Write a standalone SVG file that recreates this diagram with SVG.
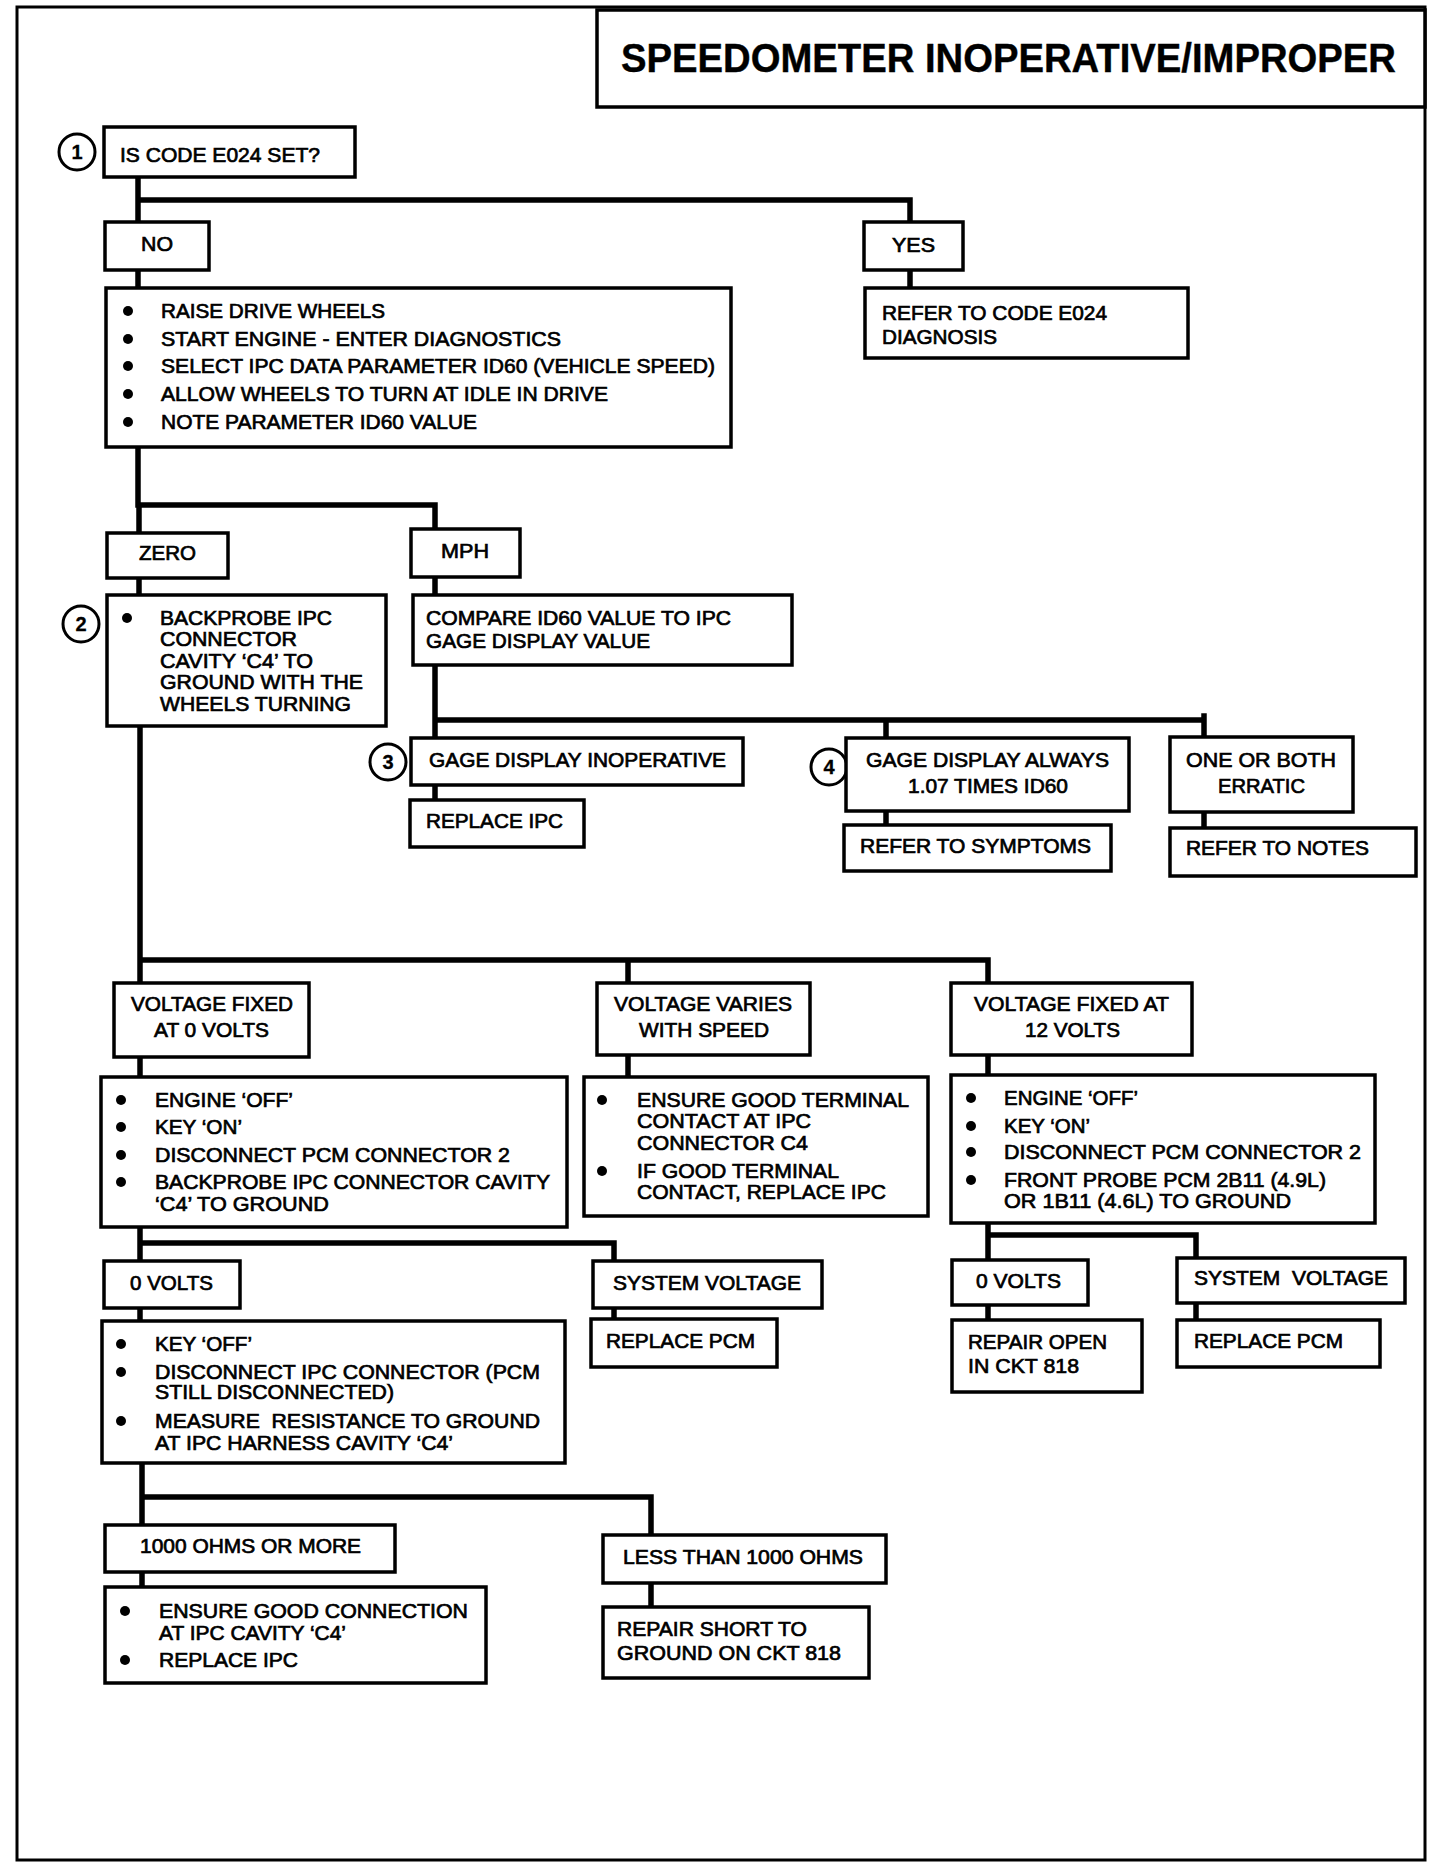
<svg xmlns="http://www.w3.org/2000/svg" width="1440" height="1872" viewBox="0 0 1440 1872">
<style>
.frame{fill:none;stroke:#000;stroke-width:3}
.box{fill:#fff;stroke:#000;stroke-width:3.5}
.conn{fill:none;stroke:#000;stroke-width:5.5;stroke-linecap:square;stroke-linejoin:miter}
text{font-family:"Liberation Sans",Arial,sans-serif;font-size:21px;fill:#000;stroke:#000;stroke-width:0.7}
.title{font-size:40px;font-weight:bold;stroke-width:0.4}
.num circle{fill:#fff;stroke:#000;stroke-width:3}
.num text{font-size:20px;font-weight:bold;text-anchor:middle;stroke-width:0.3}
.bul{fill:#000}
</style>
<rect x="0" y="0" width="1440" height="1872" fill="#fff"/>
<rect class="frame" x="17" y="7" width="1408" height="1853"/>

<g id="connectors">
<path class="conn" d="M138 177 V288 M138 200 H910 V222 M910 270 V288"/>
<path class="conn" d="M138 447 V505 H435 V529 M139 505 V533"/>
<path class="conn" d="M139 578 V595 M435 577 V595"/>
<path class="conn" d="M435 665 V738 M435 720 H1204 V737 M1204 716 V720 M886 720 V738"/>
<path class="conn" d="M435 785 V800 M886 811 V825 M1204 812 V828"/>
<path class="conn" d="M140 726 V983 M140 960 H988 V983 M628 960 V983"/>
<path class="conn" d="M140 1057 V1077 M628 1055 V1077 M988 1055 V1075"/>
<path class="conn" d="M140 1227 V1261 M140 1243 H614 V1261"/>
<path class="conn" d="M140 1308 V1321 M614 1308 V1319"/>
<path class="conn" d="M988 1223 V1260 M988 1235 H1196 V1258"/>
<path class="conn" d="M988 1305 V1320 M1196 1303 V1320"/>
<path class="conn" d="M142 1463 V1525 M142 1497 H651 V1535"/>
<path class="conn" d="M142 1572 V1587 M651 1583 V1607"/>
</g>

<g id="title">
<rect class="box" x="597" y="10" width="828" height="97"/>
<text class="title" x="621" y="72" textLength="775" lengthAdjust="spacingAndGlyphs">SPEEDOMETER INOPERATIVE/IMPROPER</text>
</g>

<g id="step1" class="num"><circle cx="77" cy="152" r="18"/><text x="77" y="159">1</text></g>
<g id="step2" class="num"><circle cx="81" cy="624" r="18"/><text x="81" y="631">2</text></g>
<g id="step3" class="num"><circle cx="388" cy="762" r="18"/><text x="388" y="769">3</text></g>
<g id="step4" class="num"><circle cx="829" cy="767" r="18"/><text x="829" y="774">4</text></g>

<g id="n-code">
<rect class="box" x="104" y="127" width="251" height="50"/>
<text x="120" y="162" textLength="200" lengthAdjust="spacingAndGlyphs">IS CODE E024 SET?</text>
</g>

<g id="n-no">
<rect class="box" x="105" y="222" width="104" height="48"/>
<text x="141" y="251" textLength="32" lengthAdjust="spacingAndGlyphs">NO</text>
</g>

<g id="n-yes">
<rect class="box" x="864" y="222" width="99" height="48"/>
<text x="892" y="252" textLength="43" lengthAdjust="spacingAndGlyphs">YES</text>
</g>

<g id="n-refer-e024">
<rect class="box" x="865" y="288" width="323" height="70"/>
<text x="882" y="320" textLength="225" lengthAdjust="spacingAndGlyphs">REFER TO CODE E024</text>
<text x="882" y="344" textLength="115" lengthAdjust="spacingAndGlyphs">DIAGNOSIS</text>
</g>

<g id="n-raise">
<rect class="box" x="106" y="288" width="625" height="159"/>
<circle class="bul" cx="128" cy="311" r="5"/>
<circle class="bul" cx="128" cy="339" r="5"/>
<circle class="bul" cx="128" cy="366" r="5"/>
<circle class="bul" cx="128" cy="394" r="5"/>
<circle class="bul" cx="128" cy="422" r="5"/>
<text x="161" y="318" textLength="224" lengthAdjust="spacingAndGlyphs">RAISE DRIVE WHEELS</text>
<text x="161" y="346" textLength="400" lengthAdjust="spacingAndGlyphs">START ENGINE - ENTER DIAGNOSTICS</text>
<text x="161" y="373" textLength="554" lengthAdjust="spacingAndGlyphs">SELECT IPC DATA PARAMETER ID60 (VEHICLE SPEED)</text>
<text x="161" y="401" textLength="447" lengthAdjust="spacingAndGlyphs">ALLOW WHEELS TO TURN AT IDLE IN DRIVE</text>
<text x="161" y="429" textLength="316" lengthAdjust="spacingAndGlyphs">NOTE PARAMETER ID60 VALUE</text>
</g>

<g id="n-zero">
<rect class="box" x="107" y="533" width="121" height="45"/>
<text x="139" y="560" textLength="57" lengthAdjust="spacingAndGlyphs">ZERO</text>
</g>

<g id="n-mph">
<rect class="box" x="411" y="529" width="109" height="48"/>
<text x="441" y="558" textLength="48" lengthAdjust="spacingAndGlyphs">MPH</text>
</g>

<g id="n-backprobe">
<rect class="box" x="107" y="595" width="279" height="131"/>
<circle class="bul" cx="127" cy="618" r="5"/>
<text x="160" y="625" textLength="172" lengthAdjust="spacingAndGlyphs">BACKPROBE IPC</text>
<text x="160" y="646" textLength="137" lengthAdjust="spacingAndGlyphs">CONNECTOR</text>
<text x="160" y="668" textLength="153" lengthAdjust="spacingAndGlyphs">CAVITY ‘C4’ TO</text>
<text x="160" y="689" textLength="203" lengthAdjust="spacingAndGlyphs">GROUND WITH THE</text>
<text x="160" y="711" textLength="191" lengthAdjust="spacingAndGlyphs">WHEELS TURNING</text>
</g>

<g id="n-compare">
<rect class="box" x="413" y="595" width="379" height="70"/>
<text x="426" y="625" textLength="305" lengthAdjust="spacingAndGlyphs">COMPARE ID60 VALUE TO IPC</text>
<text x="426" y="648" textLength="224" lengthAdjust="spacingAndGlyphs">GAGE DISPLAY VALUE</text>
</g>

<g id="n-gage-inop">
<rect class="box" x="411" y="738" width="332" height="47"/>
<text x="429" y="767" textLength="297" lengthAdjust="spacingAndGlyphs">GAGE DISPLAY INOPERATIVE</text>
</g>

<g id="n-replace-ipc">
<rect class="box" x="410" y="800" width="174" height="47"/>
<text x="426" y="828" textLength="137" lengthAdjust="spacingAndGlyphs">REPLACE IPC</text>
</g>

<g id="n-gage-always">
<rect class="box" x="846" y="738" width="283" height="73"/>
<text x="866" y="767" textLength="243" lengthAdjust="spacingAndGlyphs">GAGE DISPLAY ALWAYS</text>
<text x="908" y="793" textLength="160" lengthAdjust="spacingAndGlyphs">1.07 TIMES ID60</text>
</g>

<g id="n-symptoms">
<rect class="box" x="844" y="825" width="267" height="46"/>
<text x="860" y="853" textLength="231" lengthAdjust="spacingAndGlyphs">REFER TO SYMPTOMS</text>
</g>

<g id="n-erratic">
<rect class="box" x="1170" y="737" width="183" height="75"/>
<text x="1186" y="767" textLength="150" lengthAdjust="spacingAndGlyphs">ONE OR BOTH</text>
<text x="1218" y="793" textLength="87" lengthAdjust="spacingAndGlyphs">ERRATIC</text>
</g>

<g id="n-notes">
<rect class="box" x="1170" y="828" width="246" height="48"/>
<text x="1186" y="855" textLength="183" lengthAdjust="spacingAndGlyphs">REFER TO NOTES</text>
</g>

<g id="n-fixed0">
<rect class="box" x="114" y="983" width="195" height="74"/>
<text x="131" y="1011" textLength="162" lengthAdjust="spacingAndGlyphs">VOLTAGE FIXED</text>
<text x="154" y="1037" textLength="115" lengthAdjust="spacingAndGlyphs">AT 0 VOLTS</text>
</g>

<g id="n-varies">
<rect class="box" x="597" y="983" width="213" height="72"/>
<text x="614" y="1011" textLength="178" lengthAdjust="spacingAndGlyphs">VOLTAGE VARIES</text>
<text x="639" y="1037" textLength="130" lengthAdjust="spacingAndGlyphs">WITH SPEED</text>
</g>

<g id="n-fixed12">
<rect class="box" x="951" y="983" width="241" height="72"/>
<text x="974" y="1011" textLength="195" lengthAdjust="spacingAndGlyphs">VOLTAGE FIXED AT</text>
<text x="1025" y="1037" textLength="95" lengthAdjust="spacingAndGlyphs">12 VOLTS</text>
</g>

<g id="n-engine-left">
<rect class="box" x="101" y="1077" width="466" height="150"/>
<circle class="bul" cx="121" cy="1100" r="5"/>
<circle class="bul" cx="121" cy="1127" r="5"/>
<circle class="bul" cx="121" cy="1155" r="5"/>
<circle class="bul" cx="121" cy="1182" r="5"/>
<text x="155" y="1107" textLength="138" lengthAdjust="spacingAndGlyphs">ENGINE ‘OFF’</text>
<text x="155" y="1134" textLength="87" lengthAdjust="spacingAndGlyphs">KEY ‘ON’</text>
<text x="155" y="1162" textLength="355" lengthAdjust="spacingAndGlyphs">DISCONNECT PCM CONNECTOR 2</text>
<text x="155" y="1189" textLength="395" lengthAdjust="spacingAndGlyphs">BACKPROBE IPC CONNECTOR CAVITY</text>
<text x="155" y="1211" textLength="174" lengthAdjust="spacingAndGlyphs">‘C4’ TO GROUND</text>
</g>

<g id="n-ensure-terminal">
<rect class="box" x="584" y="1077" width="344" height="139"/>
<circle class="bul" cx="602" cy="1100" r="5"/>
<circle class="bul" cx="602" cy="1171" r="5"/>
<text x="637" y="1107" textLength="272" lengthAdjust="spacingAndGlyphs">ENSURE GOOD TERMINAL</text>
<text x="637" y="1128" textLength="174" lengthAdjust="spacingAndGlyphs">CONTACT AT IPC</text>
<text x="637" y="1150" textLength="171" lengthAdjust="spacingAndGlyphs">CONNECTOR C4</text>
<text x="637" y="1178" textLength="202" lengthAdjust="spacingAndGlyphs">IF GOOD TERMINAL</text>
<text x="637" y="1199" textLength="249" lengthAdjust="spacingAndGlyphs">CONTACT, REPLACE IPC</text>
</g>

<g id="n-engine-right">
<rect class="box" x="951" y="1075" width="424" height="148"/>
<circle class="bul" cx="971" cy="1098" r="5"/>
<circle class="bul" cx="971" cy="1126" r="5"/>
<circle class="bul" cx="971" cy="1152" r="5"/>
<circle class="bul" cx="971" cy="1180" r="5"/>
<text x="1004" y="1105" textLength="134" lengthAdjust="spacingAndGlyphs">ENGINE ‘OFF’</text>
<text x="1004" y="1133" textLength="86" lengthAdjust="spacingAndGlyphs">KEY ‘ON’</text>
<text x="1004" y="1159" textLength="357" lengthAdjust="spacingAndGlyphs">DISCONNECT PCM CONNECTOR 2</text>
<text x="1004" y="1187" textLength="322" lengthAdjust="spacingAndGlyphs">FRONT PROBE PCM 2B11 (4.9L)</text>
<text x="1004" y="1208" textLength="287" lengthAdjust="spacingAndGlyphs">OR 1B11 (4.6L) TO GROUND</text>
</g>

<g id="n-0v-left">
<rect class="box" x="104" y="1261" width="136" height="47"/>
<text x="130" y="1290" textLength="83" lengthAdjust="spacingAndGlyphs">0 VOLTS</text>
</g>

<g id="n-sysv-mid">
<rect class="box" x="593" y="1261" width="229" height="47"/>
<text x="613" y="1290" textLength="188" lengthAdjust="spacingAndGlyphs">SYSTEM VOLTAGE</text>
</g>

<g id="n-replace-pcm-mid">
<rect class="box" x="591" y="1319" width="186" height="48"/>
<text x="606" y="1348" textLength="149" lengthAdjust="spacingAndGlyphs">REPLACE PCM</text>
</g>

<g id="n-0v-right">
<rect class="box" x="952" y="1260" width="136" height="45"/>
<text x="976" y="1288" textLength="85" lengthAdjust="spacingAndGlyphs">0 VOLTS</text>
</g>

<g id="n-sysv-right">
<rect class="box" x="1177" y="1258" width="228" height="45"/>
<text x="1194" y="1285" textLength="194" lengthAdjust="spacingAndGlyphs" xml:space="preserve">SYSTEM  VOLTAGE</text>
</g>

<g id="n-repair-open">
<rect class="box" x="952" y="1320" width="190" height="72"/>
<text x="968" y="1349" textLength="139" lengthAdjust="spacingAndGlyphs">REPAIR OPEN</text>
<text x="968" y="1373" textLength="111" lengthAdjust="spacingAndGlyphs">IN CKT 818</text>
</g>

<g id="n-replace-pcm-right">
<rect class="box" x="1177" y="1320" width="203" height="47"/>
<text x="1194" y="1348" textLength="149" lengthAdjust="spacingAndGlyphs">REPLACE PCM</text>
</g>

<g id="n-key-off">
<rect class="box" x="102" y="1321" width="463" height="142"/>
<circle class="bul" cx="121" cy="1344" r="5"/>
<circle class="bul" cx="121" cy="1372" r="5"/>
<circle class="bul" cx="121" cy="1421" r="5"/>
<text x="155" y="1351" textLength="97" lengthAdjust="spacingAndGlyphs">KEY ‘OFF’</text>
<text x="155" y="1379" textLength="385" lengthAdjust="spacingAndGlyphs">DISCONNECT IPC CONNECTOR (PCM</text>
<text x="155" y="1399" textLength="239" lengthAdjust="spacingAndGlyphs">STILL DISCONNECTED)</text>
<text x="155" y="1428" textLength="385" lengthAdjust="spacingAndGlyphs" xml:space="preserve">MEASURE  RESISTANCE TO GROUND</text>
<text x="155" y="1450" textLength="298" lengthAdjust="spacingAndGlyphs">AT IPC HARNESS CAVITY ‘C4’</text>
</g>

<g id="n-1000-more">
<rect class="box" x="105" y="1525" width="290" height="47"/>
<text x="140" y="1553" textLength="221" lengthAdjust="spacingAndGlyphs">1000 OHMS OR MORE</text>
</g>

<g id="n-ensure-conn">
<rect class="box" x="105" y="1587" width="381" height="96"/>
<circle class="bul" cx="125" cy="1611" r="5"/>
<circle class="bul" cx="125" cy="1660" r="5"/>
<text x="159" y="1618" textLength="309" lengthAdjust="spacingAndGlyphs">ENSURE GOOD CONNECTION</text>
<text x="159" y="1640" textLength="187" lengthAdjust="spacingAndGlyphs">AT IPC CAVITY ‘C4’</text>
<text x="159" y="1667" textLength="139" lengthAdjust="spacingAndGlyphs">REPLACE IPC</text>
</g>

<g id="n-less-1000">
<rect class="box" x="603" y="1535" width="283" height="48"/>
<text x="623" y="1564" textLength="240" lengthAdjust="spacingAndGlyphs">LESS THAN 1000 OHMS</text>
</g>

<g id="n-repair-short">
<rect class="box" x="603" y="1607" width="266" height="71"/>
<text x="617" y="1636" textLength="190" lengthAdjust="spacingAndGlyphs">REPAIR SHORT TO</text>
<text x="617" y="1660" textLength="224" lengthAdjust="spacingAndGlyphs">GROUND ON CKT 818</text>
</g>
</svg>
